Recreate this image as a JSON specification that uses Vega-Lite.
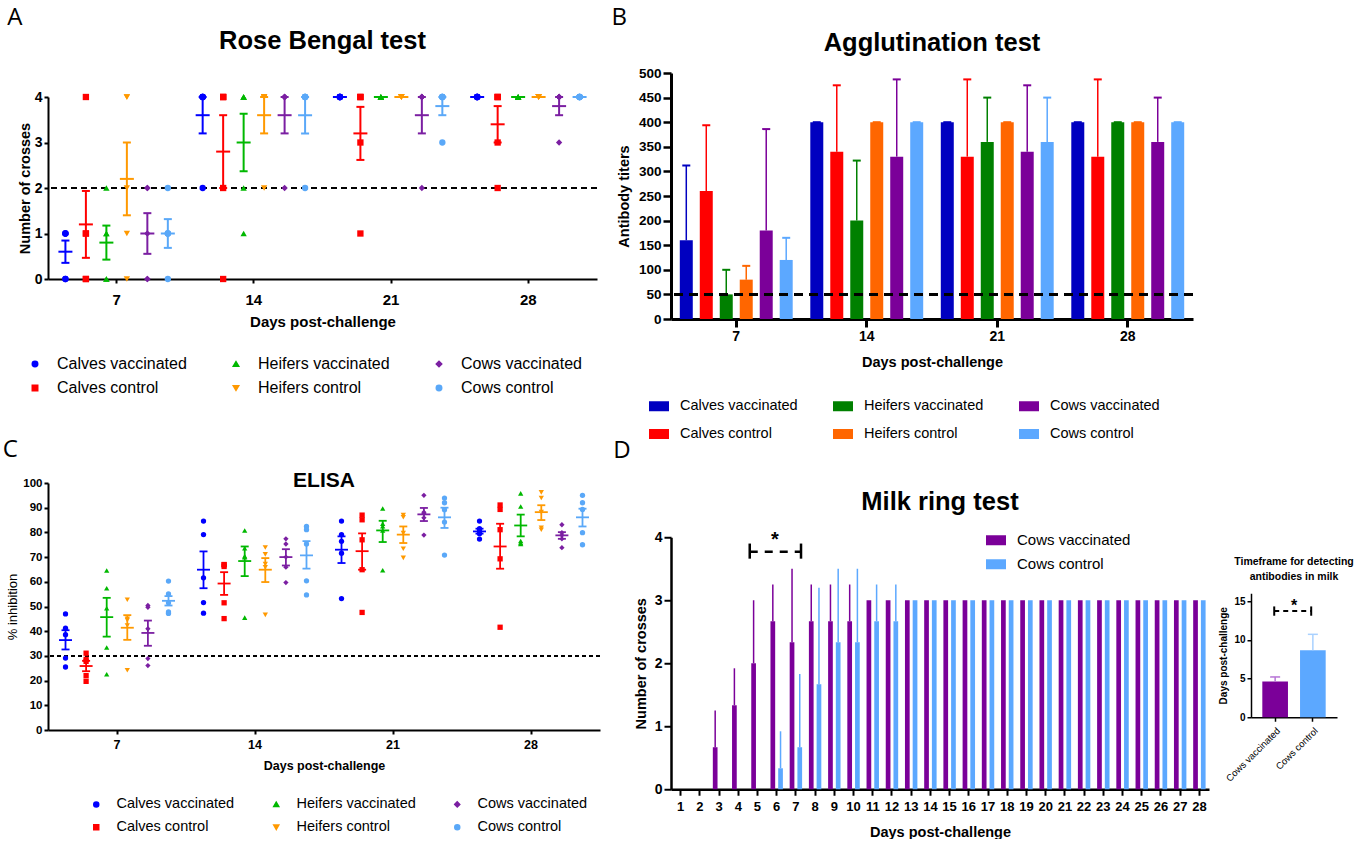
{
"$schema": "https://vega.github.io/schema/vega-lite/v6.json",
"background": "white",
"padding": {"left": 2, "top": 4, "right": 0, "bottom": 0},
"config": {
 "view": {"stroke": null},
 "font": "Liberation Sans",
 "axis": {"domainColor": "black", "tickColor": "black", "labelColor": "black", "titleColor": "black", "grid": false, "labelFont": "Liberation Sans", "titleFont": "Liberation Sans", "labelFontWeight": "bold", "titleFontWeight": "bold", "labelOverlap": false},
 "legend": {"labelFont": "Liberation Sans", "labelColor": "black", "labelLimit": 300},
 "title": {"font": "Liberation Sans", "fontWeight": "bold", "color": "black"}
},
"datasets": {
 "rbp": [
  {"d":7,"g":"Calves vaccinated","v":1},{"d":7,"g":"Calves vaccinated","v":1},{"d":7,"g":"Calves vaccinated","v":1},{"d":7,"g":"Calves vaccinated","v":0},{"d":7,"g":"Calves vaccinated","v":0},
  {"d":7,"g":"Calves control","v":4},{"d":7,"g":"Calves control","v":1},{"d":7,"g":"Calves control","v":1},{"d":7,"g":"Calves control","v":0},{"d":7,"g":"Calves control","v":0},
  {"d":7,"g":"Heifers vaccinated","v":2},{"d":7,"g":"Heifers vaccinated","v":1},{"d":7,"g":"Heifers vaccinated","v":1},{"d":7,"g":"Heifers vaccinated","v":0},{"d":7,"g":"Heifers vaccinated","v":0},
  {"d":7,"g":"Heifers control","v":4},{"d":7,"g":"Heifers control","v":4},{"d":7,"g":"Heifers control","v":2},{"d":7,"g":"Heifers control","v":1},{"d":7,"g":"Heifers control","v":0},
  {"d":7,"g":"Cows vaccinated","v":2},{"d":7,"g":"Cows vaccinated","v":2},{"d":7,"g":"Cows vaccinated","v":1},{"d":7,"g":"Cows vaccinated","v":0},{"d":7,"g":"Cows vaccinated","v":0},
  {"d":7,"g":"Cows control","v":2},{"d":7,"g":"Cows control","v":1},{"d":7,"g":"Cows control","v":1},{"d":7,"g":"Cows control","v":1},{"d":7,"g":"Cows control","v":0},
  {"d":14,"g":"Calves vaccinated","v":4},{"d":14,"g":"Calves vaccinated","v":4},{"d":14,"g":"Calves vaccinated","v":4},{"d":14,"g":"Calves vaccinated","v":4},{"d":14,"g":"Calves vaccinated","v":2},
  {"d":14,"g":"Calves control","v":4},{"d":14,"g":"Calves control","v":4},{"d":14,"g":"Calves control","v":4},{"d":14,"g":"Calves control","v":2},{"d":14,"g":"Calves control","v":0},
  {"d":14,"g":"Heifers vaccinated","v":4},{"d":14,"g":"Heifers vaccinated","v":4},{"d":14,"g":"Heifers vaccinated","v":4},{"d":14,"g":"Heifers vaccinated","v":2},{"d":14,"g":"Heifers vaccinated","v":1},
  {"d":14,"g":"Heifers control","v":4},{"d":14,"g":"Heifers control","v":4},{"d":14,"g":"Heifers control","v":4},{"d":14,"g":"Heifers control","v":4},{"d":14,"g":"Heifers control","v":2},
  {"d":14,"g":"Cows vaccinated","v":4},{"d":14,"g":"Cows vaccinated","v":4},{"d":14,"g":"Cows vaccinated","v":4},{"d":14,"g":"Cows vaccinated","v":4},{"d":14,"g":"Cows vaccinated","v":2},
  {"d":14,"g":"Cows control","v":4},{"d":14,"g":"Cows control","v":4},{"d":14,"g":"Cows control","v":4},{"d":14,"g":"Cows control","v":4},{"d":14,"g":"Cows control","v":2},
  {"d":21,"g":"Calves vaccinated","v":4},{"d":21,"g":"Calves vaccinated","v":4},{"d":21,"g":"Calves vaccinated","v":4},{"d":21,"g":"Calves vaccinated","v":4},{"d":21,"g":"Calves vaccinated","v":4},
  {"d":21,"g":"Calves control","v":4},{"d":21,"g":"Calves control","v":4},{"d":21,"g":"Calves control","v":4},{"d":21,"g":"Calves control","v":3},{"d":21,"g":"Calves control","v":1},
  {"d":21,"g":"Heifers vaccinated","v":4},{"d":21,"g":"Heifers vaccinated","v":4},{"d":21,"g":"Heifers vaccinated","v":4},{"d":21,"g":"Heifers vaccinated","v":4},{"d":21,"g":"Heifers vaccinated","v":4},
  {"d":21,"g":"Heifers control","v":4},{"d":21,"g":"Heifers control","v":4},{"d":21,"g":"Heifers control","v":4},{"d":21,"g":"Heifers control","v":4},{"d":21,"g":"Heifers control","v":4},
  {"d":21,"g":"Cows vaccinated","v":4},{"d":21,"g":"Cows vaccinated","v":4},{"d":21,"g":"Cows vaccinated","v":4},{"d":21,"g":"Cows vaccinated","v":4},{"d":21,"g":"Cows vaccinated","v":2},
  {"d":21,"g":"Cows control","v":4},{"d":21,"g":"Cows control","v":4},{"d":21,"g":"Cows control","v":4},{"d":21,"g":"Cows control","v":4},{"d":21,"g":"Cows control","v":3},
  {"d":28,"g":"Calves vaccinated","v":4},{"d":28,"g":"Calves vaccinated","v":4},{"d":28,"g":"Calves vaccinated","v":4},{"d":28,"g":"Calves vaccinated","v":4},{"d":28,"g":"Calves vaccinated","v":4},
  {"d":28,"g":"Calves control","v":4},{"d":28,"g":"Calves control","v":4},{"d":28,"g":"Calves control","v":4},{"d":28,"g":"Calves control","v":3},{"d":28,"g":"Calves control","v":2},
  {"d":28,"g":"Heifers vaccinated","v":4},{"d":28,"g":"Heifers vaccinated","v":4},{"d":28,"g":"Heifers vaccinated","v":4},{"d":28,"g":"Heifers vaccinated","v":4},{"d":28,"g":"Heifers vaccinated","v":4},
  {"d":28,"g":"Heifers control","v":4},{"d":28,"g":"Heifers control","v":4},{"d":28,"g":"Heifers control","v":4},{"d":28,"g":"Heifers control","v":4},{"d":28,"g":"Heifers control","v":4},
  {"d":28,"g":"Cows vaccinated","v":4},{"d":28,"g":"Cows vaccinated","v":4},{"d":28,"g":"Cows vaccinated","v":4},{"d":28,"g":"Cows vaccinated","v":4},{"d":28,"g":"Cows vaccinated","v":3},
  {"d":28,"g":"Cows control","v":4},{"d":28,"g":"Cows control","v":4},{"d":28,"g":"Cows control","v":4},{"d":28,"g":"Cows control","v":4},{"d":28,"g":"Cows control","v":4}
 ],
 "rbs": [
  {"d":7,"g":"Calves vaccinated","m":0.6,"lo":0.355,"hi":0.845},
  {"d":7,"g":"Calves control","m":1.2,"lo":0.465,"hi":1.935},
  {"d":7,"g":"Heifers vaccinated","m":0.8,"lo":0.426,"hi":1.174},
  {"d":7,"g":"Heifers control","m":2.2,"lo":1.4,"hi":3.0},
  {"d":7,"g":"Cows vaccinated","m":1.0,"lo":0.553,"hi":1.447},
  {"d":7,"g":"Cows control","m":1.0,"lo":0.684,"hi":1.316},
  {"d":14,"g":"Calves vaccinated","m":3.6,"lo":3.2,"hi":4.0},
  {"d":14,"g":"Calves control","m":2.8,"lo":2.0,"hi":3.6},
  {"d":14,"g":"Heifers vaccinated","m":3.0,"lo":2.368,"hi":3.632},
  {"d":14,"g":"Heifers control","m":3.6,"lo":3.2,"hi":4.0},
  {"d":14,"g":"Cows vaccinated","m":3.6,"lo":3.2,"hi":4.0},
  {"d":14,"g":"Cows control","m":3.6,"lo":3.2,"hi":4.0},
  {"d":21,"g":"Calves vaccinated","m":4,"lo":4,"hi":4},
  {"d":21,"g":"Calves control","m":3.2,"lo":2.617,"hi":3.783},
  {"d":21,"g":"Heifers vaccinated","m":4,"lo":4,"hi":4},
  {"d":21,"g":"Heifers control","m":4,"lo":4,"hi":4},
  {"d":21,"g":"Cows vaccinated","m":3.6,"lo":3.2,"hi":4.0},
  {"d":21,"g":"Cows control","m":3.8,"lo":3.6,"hi":4.0},
  {"d":28,"g":"Calves vaccinated","m":4,"lo":4,"hi":4},
  {"d":28,"g":"Calves control","m":3.4,"lo":3.0,"hi":3.8},
  {"d":28,"g":"Heifers vaccinated","m":4,"lo":4,"hi":4},
  {"d":28,"g":"Heifers control","m":4,"lo":4,"hi":4},
  {"d":28,"g":"Cows vaccinated","m":3.8,"lo":3.6,"hi":4.0},
  {"d":28,"g":"Cows control","m":4,"lo":4,"hi":4}
 ],
 "agg": [
  {"d":7,"g":"Calves vaccinated","m":160,"hi":312},
  {"d":7,"g":"Calves control","m":260,"hi":394},
  {"d":7,"g":"Heifers vaccinated","m":50,"hi":100},
  {"d":7,"g":"Heifers control","m":80,"hi":108},
  {"d":7,"g":"Cows vaccinated","m":180,"hi":386},
  {"d":7,"g":"Cows control","m":120,"hi":165},
  {"d":14,"g":"Calves vaccinated","m":400,"hi":400},
  {"d":14,"g":"Calves control","m":340,"hi":475},
  {"d":14,"g":"Heifers vaccinated","m":200,"hi":322},
  {"d":14,"g":"Heifers control","m":400,"hi":400},
  {"d":14,"g":"Cows vaccinated","m":330,"hi":487},
  {"d":14,"g":"Cows control","m":400,"hi":400},
  {"d":21,"g":"Calves vaccinated","m":400,"hi":400},
  {"d":21,"g":"Calves control","m":330,"hi":487},
  {"d":21,"g":"Heifers vaccinated","m":360,"hi":450},
  {"d":21,"g":"Heifers control","m":400,"hi":400},
  {"d":21,"g":"Cows vaccinated","m":340,"hi":475},
  {"d":21,"g":"Cows control","m":360,"hi":450},
  {"d":28,"g":"Calves vaccinated","m":400,"hi":400},
  {"d":28,"g":"Calves control","m":330,"hi":487},
  {"d":28,"g":"Heifers vaccinated","m":400,"hi":400},
  {"d":28,"g":"Heifers control","m":400,"hi":400},
  {"d":28,"g":"Cows vaccinated","m":360,"hi":450},
  {"d":28,"g":"Cows control","m":400,"hi":400}
 ],
 "elp": [
  {"d":7,"g":"Calves vaccinated","v":47.0},{"d":7,"g":"Calves vaccinated","v":41.2},{"d":7,"g":"Calves vaccinated","v":38.6},{"d":7,"g":"Calves vaccinated","v":29.1},{"d":7,"g":"Calves vaccinated","v":25.5},
  {"d":7,"g":"Calves control","v":31.1},{"d":7,"g":"Calves control","v":28.6},{"d":7,"g":"Calves control","v":27.8},{"d":7,"g":"Calves control","v":22.0},{"d":7,"g":"Calves control","v":19.7},
  {"d":7,"g":"Heifers vaccinated","v":64.6},{"d":7,"g":"Heifers vaccinated","v":57.4},{"d":7,"g":"Heifers vaccinated","v":49.3},{"d":7,"g":"Heifers vaccinated","v":33.4},{"d":7,"g":"Heifers vaccinated","v":22.6},
  {"d":7,"g":"Heifers control","v":52.7},{"d":7,"g":"Heifers control","v":45.0},{"d":7,"g":"Heifers control","v":44.5},{"d":7,"g":"Heifers control","v":42.3},{"d":7,"g":"Heifers control","v":24.2},
  {"d":7,"g":"Cows vaccinated","v":50.4},{"d":7,"g":"Cows vaccinated","v":49.7},{"d":7,"g":"Cows vaccinated","v":41.0},{"d":7,"g":"Cows vaccinated","v":28.9},{"d":7,"g":"Cows vaccinated","v":26.1},
  {"d":7,"g":"Cows control","v":60.3},{"d":7,"g":"Cows control","v":55.1},{"d":7,"g":"Cows control","v":51.5},{"d":7,"g":"Cows control","v":47.8},{"d":7,"g":"Cows control","v":47.2},
  {"d":14,"g":"Calves vaccinated","v":84.6},{"d":14,"g":"Calves vaccinated","v":79.1},{"d":14,"g":"Calves vaccinated","v":61.6},{"d":14,"g":"Calves vaccinated","v":51.6},{"d":14,"g":"Calves vaccinated","v":47.3},
  {"d":14,"g":"Calves control","v":67.0},{"d":14,"g":"Calves control","v":66.9},{"d":14,"g":"Calves control","v":66.2},{"d":14,"g":"Calves control","v":51.5},{"d":14,"g":"Calves control","v":45.1},
  {"d":14,"g":"Heifers vaccinated","v":80.8},{"d":14,"g":"Heifers vaccinated","v":73.6},{"d":14,"g":"Heifers vaccinated","v":70.4},{"d":14,"g":"Heifers vaccinated","v":70.0},{"d":14,"g":"Heifers vaccinated","v":45.5},
  {"d":14,"g":"Heifers control","v":73.9},{"d":14,"g":"Heifers control","v":71.1},{"d":14,"g":"Heifers control","v":67.2},{"d":14,"g":"Heifers control","v":65.9},{"d":14,"g":"Heifers control","v":46.6},
  {"d":14,"g":"Cows vaccinated","v":77.4},{"d":14,"g":"Cows vaccinated","v":75.3},{"d":14,"g":"Cows vaccinated","v":70.0},{"d":14,"g":"Cows vaccinated","v":65.9},{"d":14,"g":"Cows vaccinated","v":59.7},
  {"d":14,"g":"Cows control","v":82.4},{"d":14,"g":"Cows control","v":81.1},{"d":14,"g":"Cows control","v":75.3},{"d":14,"g":"Cows control","v":60.4},{"d":14,"g":"Cows control","v":54.7},
  {"d":21,"g":"Calves vaccinated","v":84.6},{"d":21,"g":"Calves vaccinated","v":79.1},{"d":21,"g":"Calves vaccinated","v":76.4},{"d":21,"g":"Calves vaccinated","v":71.6},{"d":21,"g":"Calves vaccinated","v":53.2},
  {"d":21,"g":"Calves control","v":87.0},{"d":21,"g":"Calves control","v":85.1},{"d":21,"g":"Calves control","v":77.0},{"d":21,"g":"Calves control","v":64.9},{"d":21,"g":"Calves control","v":47.6},
  {"d":21,"g":"Heifers vaccinated","v":89.7},{"d":21,"g":"Heifers vaccinated","v":83.5},{"d":21,"g":"Heifers vaccinated","v":82.5},{"d":21,"g":"Heifers vaccinated","v":80.8},{"d":21,"g":"Heifers vaccinated","v":64.7},
  {"d":21,"g":"Heifers control","v":87.0},{"d":21,"g":"Heifers control","v":86.1},{"d":21,"g":"Heifers control","v":79.7},{"d":21,"g":"Heifers control","v":73.4},{"d":21,"g":"Heifers control","v":69.7},
  {"d":21,"g":"Cows vaccinated","v":95.0},{"d":21,"g":"Cows vaccinated","v":88.2},{"d":21,"g":"Cows vaccinated","v":87.6},{"d":21,"g":"Cows vaccinated","v":85.9},{"d":21,"g":"Cows vaccinated","v":78.9},
  {"d":21,"g":"Cows control","v":93.9},{"d":21,"g":"Cows control","v":92.0},{"d":21,"g":"Cows control","v":89.2},{"d":21,"g":"Cows control","v":84.2},{"d":21,"g":"Cows control","v":70.8},
  {"d":28,"g":"Calves vaccinated","v":84.6},{"d":28,"g":"Calves vaccinated","v":81.5},{"d":28,"g":"Calves vaccinated","v":80.5},{"d":28,"g":"Calves vaccinated","v":79.5},{"d":28,"g":"Calves vaccinated","v":77.3},
  {"d":28,"g":"Calves control","v":91.1},{"d":28,"g":"Calves control","v":89.3},{"d":28,"g":"Calves control","v":81.1},{"d":28,"g":"Calves control","v":69.3},{"d":28,"g":"Calves control","v":41.6},
  {"d":28,"g":"Heifers vaccinated","v":95.8},{"d":28,"g":"Heifers vaccinated","v":90.5},{"d":28,"g":"Heifers vaccinated","v":76.5},{"d":28,"g":"Heifers vaccinated","v":75.7},{"d":28,"g":"Heifers vaccinated","v":75.3},
  {"d":28,"g":"Heifers control","v":96.2},{"d":28,"g":"Heifers control","v":93.9},{"d":28,"g":"Heifers control","v":88.2},{"d":28,"g":"Heifers control","v":81.9},{"d":28,"g":"Heifers control","v":81.1},
  {"d":28,"g":"Cows vaccinated","v":83.1},{"d":28,"g":"Cows vaccinated","v":79.9},{"d":28,"g":"Cows vaccinated","v":78.8},{"d":28,"g":"Cows vaccinated","v":77.4},{"d":28,"g":"Cows vaccinated","v":73.8},
  {"d":28,"g":"Cows control","v":95.0},{"d":28,"g":"Cows control","v":92.0},{"d":28,"g":"Cows control","v":89.3},{"d":28,"g":"Cows control","v":79.9},{"d":28,"g":"Cows control","v":75.0}
 ],
 "els": [
  {"d":7,"g":"Calves vaccinated","m":36.4,"lo":32.6,"hi":40.4},
  {"d":7,"g":"Calves control","m":25.9,"lo":23.8,"hi":28.0},
  {"d":7,"g":"Heifers vaccinated","m":45.7,"lo":37.8,"hi":53.5},
  {"d":7,"g":"Heifers control","m":41.4,"lo":36.5,"hi":46.5},
  {"d":7,"g":"Cows vaccinated","m":39.3,"lo":34.1,"hi":44.3},
  {"d":7,"g":"Cows control","m":52.3,"lo":50.4,"hi":54.2},
  {"d":14,"g":"Calves vaccinated","m":64.9,"lo":57.4,"hi":72.3},
  {"d":14,"g":"Calves control","m":59.3,"lo":54.7,"hi":63.9},
  {"d":14,"g":"Heifers vaccinated","m":68.4,"lo":62.3,"hi":74.3},
  {"d":14,"g":"Heifers control","m":64.9,"lo":59.9,"hi":69.6},
  {"d":14,"g":"Cows vaccinated","m":70.0,"lo":66.6,"hi":73.2},
  {"d":14,"g":"Cows control","m":70.7,"lo":65.3,"hi":76.5},
  {"d":21,"g":"Calves vaccinated","m":73.0,"lo":67.6,"hi":78.4},
  {"d":21,"g":"Calves control","m":72.4,"lo":64.9,"hi":79.6},
  {"d":21,"g":"Heifers vaccinated","m":80.8,"lo":76.1,"hi":84.7},
  {"d":21,"g":"Heifers control","m":79.1,"lo":75.7,"hi":82.4},
  {"d":21,"g":"Cows vaccinated","m":87.3,"lo":84.6,"hi":89.9},
  {"d":21,"g":"Cows control","m":86.1,"lo":81.8,"hi":90.0},
  {"d":28,"g":"Calves vaccinated","m":80.4,"lo":79.5,"hi":81.5},
  {"d":28,"g":"Calves control","m":74.3,"lo":65.3,"hi":83.5},
  {"d":28,"g":"Heifers vaccinated","m":82.8,"lo":78.4,"hi":87.2},
  {"d":28,"g":"Heifers control","m":88.2,"lo":85.0,"hi":91.0},
  {"d":28,"g":"Cows vaccinated","m":78.8,"lo":77.4,"hi":80.1},
  {"d":28,"g":"Cows control","m":86.1,"lo":82.4,"hi":89.6}
 ],
 "milk": [
  {"d":1,"g":"Cows vaccinated","m":0,"hi":0},{"d":1,"g":"Cows control","m":0,"hi":0},
  {"d":2,"g":"Cows vaccinated","m":0,"hi":0},{"d":2,"g":"Cows control","m":0,"hi":0},
  {"d":3,"g":"Cows vaccinated","m":0.667,"hi":1.25},{"d":3,"g":"Cows control","m":0,"hi":0},
  {"d":4,"g":"Cows vaccinated","m":1.333,"hi":1.92},{"d":4,"g":"Cows control","m":0,"hi":0},
  {"d":5,"g":"Cows vaccinated","m":2.0,"hi":3.0},{"d":5,"g":"Cows control","m":0,"hi":0},
  {"d":6,"g":"Cows vaccinated","m":2.667,"hi":3.25},{"d":6,"g":"Cows control","m":0.333,"hi":0.92},
  {"d":7,"g":"Cows vaccinated","m":2.333,"hi":3.5},{"d":7,"g":"Cows control","m":0.667,"hi":1.83},
  {"d":8,"g":"Cows vaccinated","m":2.667,"hi":3.25},{"d":8,"g":"Cows control","m":1.667,"hi":3.2},
  {"d":9,"g":"Cows vaccinated","m":2.667,"hi":3.25},{"d":9,"g":"Cows control","m":2.333,"hi":3.5},
  {"d":10,"g":"Cows vaccinated","m":2.667,"hi":3.25},{"d":10,"g":"Cows control","m":2.333,"hi":3.5},
  {"d":11,"g":"Cows vaccinated","m":3,"hi":3},{"d":11,"g":"Cows control","m":2.667,"hi":3.25},
  {"d":12,"g":"Cows vaccinated","m":3,"hi":3},{"d":12,"g":"Cows control","m":2.667,"hi":3.25},
  {"d":13,"g":"Cows vaccinated","m":3,"hi":3},{"d":13,"g":"Cows control","m":3,"hi":3},
  {"d":14,"g":"Cows vaccinated","m":3,"hi":3},{"d":14,"g":"Cows control","m":3,"hi":3},
  {"d":15,"g":"Cows vaccinated","m":3,"hi":3},{"d":15,"g":"Cows control","m":3,"hi":3},
  {"d":16,"g":"Cows vaccinated","m":3,"hi":3},{"d":16,"g":"Cows control","m":3,"hi":3},
  {"d":17,"g":"Cows vaccinated","m":3,"hi":3},{"d":17,"g":"Cows control","m":3,"hi":3},
  {"d":18,"g":"Cows vaccinated","m":3,"hi":3},{"d":18,"g":"Cows control","m":3,"hi":3},
  {"d":19,"g":"Cows vaccinated","m":3,"hi":3},{"d":19,"g":"Cows control","m":3,"hi":3},
  {"d":20,"g":"Cows vaccinated","m":3,"hi":3},{"d":20,"g":"Cows control","m":3,"hi":3},
  {"d":21,"g":"Cows vaccinated","m":3,"hi":3},{"d":21,"g":"Cows control","m":3,"hi":3},
  {"d":22,"g":"Cows vaccinated","m":3,"hi":3},{"d":22,"g":"Cows control","m":3,"hi":3},
  {"d":23,"g":"Cows vaccinated","m":3,"hi":3},{"d":23,"g":"Cows control","m":3,"hi":3},
  {"d":24,"g":"Cows vaccinated","m":3,"hi":3},{"d":24,"g":"Cows control","m":3,"hi":3},
  {"d":25,"g":"Cows vaccinated","m":3,"hi":3},{"d":25,"g":"Cows control","m":3,"hi":3},
  {"d":26,"g":"Cows vaccinated","m":3,"hi":3},{"d":26,"g":"Cows control","m":3,"hi":3},
  {"d":27,"g":"Cows vaccinated","m":3,"hi":3},{"d":27,"g":"Cows control","m":3,"hi":3},
  {"d":28,"g":"Cows vaccinated","m":3,"hi":3},{"d":28,"g":"Cows control","m":3,"hi":3}
 ],
 "inset": [
  {"g":"Cows vaccinated","m":4.6,"hi":5.2},
  {"g":"Cows control","m":8.63,"hi":10.7}
 ]
},
"resolve": {"scale": {"color": "independent", "shape": "independent", "xOffset": "independent", "fill": "independent", "stroke": "independent"}, "legend": {"color": "independent", "shape": "independent"}},
"align": "none",
"spacing": 10,
"hconcat": [
 {
  "align": "none",
  "spacing": 0,
  "resolve": {"scale": {"color": "independent", "shape": "independent", "xOffset": "independent", "fill": "independent", "stroke": "independent"}, "legend": {"color": "independent", "shape": "independent"}},
  "vconcat": [
   {"width": 4, "height": 1, "data": {"values": [{}]}, "mark": {"type": "point", "opacity": 0, "size": 1}, "encoding": {}},
   {
  "align": "none",
  "spacing": 42,
  "resolve": {"scale": {"color": "independent", "shape": "independent", "xOffset": "independent", "fill": "independent", "stroke": "independent"}, "legend": {"color": "independent", "shape": "independent"}},
  "vconcat": [
   {
    "title": {"text": "A", "anchor": "start", "font": "Open Sans", "fontSize": 24, "fontWeight": "normal", "dx": -10, "offset": -1},
    "vconcat": [{
     "width": 549, "height": 182,
     "title": {"text": "Rose Bengal test", "fontSize": 25.5, "offset": 36},
     "layer": [
      {"data": {"name": "rbs"}, "mark": {"type": "rule", "strokeDash": [6, 4], "strokeWidth": 2, "color": "black"}, "encoding": {"y": {"datum": 2, "type": "quantitative"}}},
      {"data": {"name": "rbp"}, "mark": {"type": "point", "filled": true, "size": 40, "opacity": 1},
       "encoding": {
        "x": {"field": "d", "type": "ordinal", "title": "Days post-challenge", "scale": {"paddingInner": 0, "paddingOuter": 0}, "axis": {"labelAngle": 0, "labelFontSize": 15, "titleFontSize": 15, "tickSize": 4, "labelPadding": 9, "titlePadding": 7, "domainWidth": 2, "tickWidth": 2}},
        "xOffset": {"field": "g", "type": "nominal", "scale": {"domain": ["Calves vaccinated","Calves control","Heifers vaccinated","Heifers control","Cows vaccinated","Cows control"], "paddingInner": 0, "paddingOuter": 0.35}},
        "y": {"field": "v", "type": "quantitative", "title": "Number of crosses", "scale": {"domain": [0, 4]}, "axis": {"values": [0,1,2,3,4], "tickCount": 6, "format": "d", "labelOverlap": false, "labelFontSize": 14, "titleFontSize": 14.5, "tickSize": 4, "labelPadding": 2, "titlePadding": 2, "domainWidth": 2, "tickWidth": 2}},
        "color": {"field": "g", "type": "nominal", "scale": {"domain": ["Calves vaccinated","Heifers vaccinated","Cows vaccinated","Calves control","Heifers control","Cows control"], "range": ["#0000FF","#00B800","#7B1FA2","#FF0000","#FF9900","#5AA8F8"]},
         "legend": {"title": null, "orient": "none", "legendX": -21, "legendY": 259, "direction": "horizontal", "columns": 3, "labelFontSize": 16, "symbolSize": 30, "labelOffset": 14, "columnPadding": 41, "rowPadding": 8, "padding": 0}},
        "shape": {"field": "g", "type": "nominal", "scale": {"domain": ["Calves vaccinated","Heifers vaccinated","Cows vaccinated","Calves control","Heifers control","Cows control"], "range": ["circle","triangle-up","diamond","square","triangle-down","circle"]},
         "legend": {"title": null, "orient": "none", "legendX": -21, "legendY": 259, "direction": "horizontal", "columns": 3, "labelFontSize": 16, "symbolSize": 30, "labelOffset": 14, "columnPadding": 41, "rowPadding": 8, "padding": 0}}
       }},
      {"data": {"name": "rbs"}, "mark": {"type": "rule", "strokeWidth": 2},
       "encoding": {
        "x": {"field": "d", "type": "ordinal", "title": "Days post-challenge"},
        "xOffset": {"field": "g", "type": "nominal"},
        "y": {"field": "lo", "type": "quantitative", "title": "Number of crosses"}, "y2": {"field": "hi"},
        "color": {"field": "g", "type": "nominal", "legend": null}}},
      {"data": {"name": "rbs"}, "mark": {"type": "tick", "orient": "horizontal", "size": 14, "thickness": 2, "opacity": 1},
       "encoding": {
        "x": {"field": "d", "type": "ordinal", "title": "Days post-challenge"},
        "xOffset": {"field": "g", "type": "nominal"},
        "y": {"field": "m", "type": "quantitative", "title": "Number of crosses"},
        "color": {"field": "g", "type": "nominal", "legend": null}}},
      {"data": {"name": "rbs"}, "mark": {"type": "tick", "orient": "horizontal", "size": 8, "thickness": 2, "opacity": 1},
       "encoding": {
        "x": {"field": "d", "type": "ordinal", "title": "Days post-challenge"},
        "xOffset": {"field": "g", "type": "nominal"},
        "y": {"field": "lo", "type": "quantitative", "title": "Number of crosses"},
        "color": {"field": "g", "type": "nominal", "legend": null}}},
      {"data": {"name": "rbs"}, "mark": {"type": "tick", "orient": "horizontal", "size": 8, "thickness": 2, "opacity": 1},
       "encoding": {
        "x": {"field": "d", "type": "ordinal", "title": "Days post-challenge"},
        "xOffset": {"field": "g", "type": "nominal"},
        "y": {"field": "hi", "type": "quantitative", "title": "Number of crosses"},
        "color": {"field": "g", "type": "nominal", "legend": null}}}
     ]
    }]
   },
   {
    "title": {"text": "C", "anchor": "start", "font": "Open Sans", "fontSize": 24, "fontWeight": "normal", "dx": -4, "offset": 8},
    "vconcat": [{
     "width": 552, "height": 247,
     "title": {"text": "ELISA", "fontSize": 21, "offset": -14},
     "layer": [
      {"data": {"name": "els"}, "mark": {"type": "rule", "strokeDash": [4, 3], "strokeWidth": 1.6, "color": "black"}, "encoding": {"y": {"datum": 30, "type": "quantitative"}}},
      {"data": {"name": "elp"}, "mark": {"type": "point", "filled": true, "size": 28, "opacity": 1},
       "encoding": {
        "x": {"field": "d", "type": "ordinal", "title": "Days post-challenge", "scale": {"paddingInner": 0, "paddingOuter": 0}, "axis": {"labelAngle": 0, "labelFontSize": 12.5, "titleFontSize": 12.5, "tickSize": 4, "labelPadding": 4, "titlePadding": 9, "domainWidth": 2, "tickWidth": 2}},
        "xOffset": {"field": "g", "type": "nominal", "scale": {"domain": ["Calves vaccinated","Calves control","Heifers vaccinated","Heifers control","Cows vaccinated","Cows control"], "paddingInner": 0, "paddingOuter": 0.35}},
        "y": {"field": "v", "type": "quantitative", "title": "% inhibition", "scale": {"domain": [0, 100]}, "axis": {"values": [0,10,20,30,40,50,60,70,80,90,100], "tickCount": 12, "labelOverlap": false, "labelFontSize": 11.5, "titleFontSize": 13, "titleFontWeight": "normal", "tickSize": 4, "labelPadding": 2, "titlePadding": 3, "domainWidth": 2, "tickWidth": 2}},
        "color": {"field": "g", "type": "nominal", "scale": {"domain": ["Calves vaccinated","Heifers vaccinated","Cows vaccinated","Calves control","Heifers control","Cows control"], "range": ["#0000FF","#00B800","#7B1FA2","#FF0000","#FF9900","#5AA8F8"]},
         "legend": {"title": null, "orient": "none", "legendX": 41, "legendY": 314, "direction": "horizontal", "columns": 3, "labelFontSize": 14.5, "symbolSize": 25, "labelOffset": 13, "columnPadding": 34, "rowPadding": 8, "padding": 0}},
        "shape": {"field": "g", "type": "nominal", "scale": {"domain": ["Calves vaccinated","Heifers vaccinated","Cows vaccinated","Calves control","Heifers control","Cows control"], "range": ["circle","triangle-up","diamond","square","triangle-down","circle"]},
         "legend": {"title": null, "orient": "none", "legendX": 41, "legendY": 314, "direction": "horizontal", "columns": 3, "labelFontSize": 14.5, "symbolSize": 25, "labelOffset": 13, "columnPadding": 34, "rowPadding": 8, "padding": 0}}
       }},
      {"data": {"name": "els"}, "mark": {"type": "rule", "strokeWidth": 1.8},
       "encoding": {
        "x": {"field": "d", "type": "ordinal", "title": "Days post-challenge"},
        "xOffset": {"field": "g", "type": "nominal"},
        "y": {"field": "lo", "type": "quantitative", "title": "% inhibition"}, "y2": {"field": "hi"},
        "color": {"field": "g", "type": "nominal", "legend": null}}},
      {"data": {"name": "els"}, "mark": {"type": "tick", "orient": "horizontal", "size": 13, "thickness": 1.8, "opacity": 1},
       "encoding": {
        "x": {"field": "d", "type": "ordinal", "title": "Days post-challenge"},
        "xOffset": {"field": "g", "type": "nominal"},
        "y": {"field": "m", "type": "quantitative", "title": "% inhibition"},
        "color": {"field": "g", "type": "nominal", "legend": null}}},
      {"data": {"name": "els"}, "mark": {"type": "tick", "orient": "horizontal", "size": 8, "thickness": 1.8, "opacity": 1},
       "encoding": {
        "x": {"field": "d", "type": "ordinal", "title": "Days post-challenge"},
        "xOffset": {"field": "g", "type": "nominal"},
        "y": {"field": "lo", "type": "quantitative", "title": "% inhibition"},
        "color": {"field": "g", "type": "nominal", "legend": null}}},
      {"data": {"name": "els"}, "mark": {"type": "tick", "orient": "horizontal", "size": 8, "thickness": 1.8, "opacity": 1},
       "encoding": {
        "x": {"field": "d", "type": "ordinal", "title": "Days post-challenge"},
        "xOffset": {"field": "g", "type": "nominal"},
        "y": {"field": "hi", "type": "quantitative", "title": "% inhibition"},
        "color": {"field": "g", "type": "nominal", "legend": null}}}
     ]
    }]
   }
  ]
   }
  ]
 },
 {
  "align": "none",
  "spacing": 0,
  "resolve": {"scale": {"color": "independent", "shape": "independent", "xOffset": "independent", "fill": "independent", "stroke": "independent"}, "legend": {"color": "independent", "shape": "independent"}},
  "vconcat": [
   {"width": 4, "height": 1, "data": {"values": [{}]}, "mark": {"type": "point", "opacity": 0, "size": 1}, "encoding": {}},
   {
  "align": "none",
  "spacing": -3,
  "resolve": {"scale": {"color": "independent", "shape": "independent", "xOffset": "independent", "fill": "independent", "stroke": "independent"}, "legend": {"color": "independent", "shape": "independent"}},
  "vconcat": [
   {
    "title": {"text": "B", "anchor": "start", "font": "Open Sans", "fontSize": 24, "fontWeight": "normal", "dx": -5, "offset": 1},
    "vconcat": [{
     "width": 522, "height": 246,
     "title": {"text": "Agglutination test", "fontSize": 25.5, "offset": 10},
     "layer": [
      {"data": {"name": "agg"}, "mark": {"type": "bar"},
       "encoding": {
        "x": {"field": "d", "type": "ordinal", "title": "Days post-challenge", "scale": {"paddingInner": 0, "paddingOuter": 0}, "axis": {"labelAngle": 0, "labelFontSize": 14, "titleFontSize": 14.5, "tickSize": 8, "tickWidth": 3, "domainWidth": 3, "labelPadding": 2, "titlePadding": 12}},
        "xOffset": {"field": "g", "type": "nominal", "scale": {"domain": ["Calves vaccinated","Calves control","Heifers vaccinated","Heifers control","Cows vaccinated","Cows control"], "paddingInner": 0.35, "paddingOuter": 0.44}},
        "y": {"field": "m", "type": "quantitative", "title": "Antibody titers", "scale": {"domain": [0, 500]}, "axis": {"values": [0,50,100,150,200,250,300,350,400,450,500], "tickCount": 12, "labelOverlap": false, "labelFontSize": 13.5, "titleFontSize": 14.5, "tickSize": 8, "tickWidth": 2.5, "domainWidth": 3, "labelPadding": 2, "titlePadding": 7}},
        "color": {"field": "g", "type": "nominal", "scale": {"domain": ["Calves vaccinated","Heifers vaccinated","Cows vaccinated","Calves control","Heifers control","Cows control"], "range": ["#0000C0","#008000","#7B0099","#FF0000","#FF6600","#5CA8FF"]},
         "legend": {"title": null, "orient": "none", "legendX": -22, "legendY": 323, "direction": "horizontal", "columns": 3, "labelFontSize": 14.5, "symbolType": "M-1,-0.5H1V0.5H-1Z", "symbolSize": 400, "symbolStrokeWidth": 0, "labelOffset": 11, "columnPadding": 35, "rowPadding": 11, "padding": 0}}
       }},
      {"data": {"name": "agg"}, "mark": {"type": "rule", "strokeWidth": 1.5},
       "encoding": {
        "x": {"field": "d", "type": "ordinal", "title": "Days post-challenge"},
        "xOffset": {"field": "g", "type": "nominal"},
        "y": {"field": "m", "type": "quantitative", "title": "Antibody titers"}, "y2": {"field": "hi"},
        "color": {"field": "g", "type": "nominal", "legend": null}}},
      {"data": {"name": "agg"}, "mark": {"type": "tick", "orient": "horizontal", "size": 8, "thickness": 2, "opacity": 1},
       "encoding": {
        "x": {"field": "d", "type": "ordinal", "title": "Days post-challenge"},
        "xOffset": {"field": "g", "type": "nominal"},
        "y": {"field": "hi", "type": "quantitative", "title": "Antibody titers"},
        "color": {"field": "g", "type": "nominal", "legend": null}}},
      {"data": {"name": "agg"}, "mark": {"type": "rule", "strokeDash": [9, 6], "strokeWidth": 3, "color": "black"}, "encoding": {"y": {"datum": 50, "type": "quantitative"}}}
     ]
    }]
   },
   {
    "title": {"text": "D", "anchor": "start", "font": "Open Sans", "fontSize": 24, "fontWeight": "normal", "dx": -20, "offset": 27},
    "center": true,
    "spacing": 9,
    "resolve": {"scale": {"color": "independent", "shape": "independent", "xOffset": "independent", "fill": "independent", "stroke": "independent"}, "legend": {"color": "independent", "shape": "independent"}},
    "hconcat": [
     {
      "width": 538, "height": 252,
      "title": {"text": "Milk ring test", "fontSize": 25.5, "offset": 15},
      "resolve": {"scale": {"x": "independent"}},
      "layer": [
       {"layer": [
        {"data": {"name": "milk"}, "mark": {"type": "bar"},
         "encoding": {
          "x": {"field": "d", "type": "ordinal", "title": "Days post-challenge", "scale": {"paddingInner": 0, "paddingOuter": 0}, "axis": {"labelAngle": 0, "labelFontSize": 13, "titleFontSize": 14.5, "tickSize": 6, "tickWidth": 2, "domainWidth": 2.5, "labelPadding": 5, "titlePadding": 12, "labelOverlap": false}},
          "xOffset": {"field": "g", "type": "nominal", "scale": {"domain": ["Cows vaccinated","Cows control"], "paddingInner": 0.39, "paddingOuter": 0.44}},
          "y": {"field": "m", "type": "quantitative", "title": "Number of crosses", "scale": {"domain": [0, 4]}, "axis": {"values": [0,1,2,3,4], "tickCount": 6, "format": "d", "labelOverlap": false, "labelFontSize": 14, "titleFontSize": 14.5, "tickSize": 7, "tickWidth": 2, "domainWidth": 2.5, "labelPadding": 2, "titlePadding": 6}},
          "color": {"field": "g", "type": "nominal", "scale": {"domain": ["Cows vaccinated","Cows control"], "range": ["#7B0099","#5CA8FF"]},
           "legend": {"title": null, "orient": "none", "legendX": 315, "legendY": -7, "labelFontSize": 15, "symbolType": "M-1,-0.5H1V0.5H-1Z", "symbolSize": 400, "symbolStrokeWidth": 0, "labelOffset": 11, "rowPadding": 6, "padding": 0}}
         }},
        {"data": {"name": "milk"}, "mark": {"type": "rule", "strokeWidth": 1.5},
         "encoding": {
          "x": {"field": "d", "type": "ordinal", "title": "Days post-challenge"},
          "xOffset": {"field": "g", "type": "nominal"},
          "y": {"field": "m", "type": "quantitative", "title": "Number of crosses"}, "y2": {"field": "hi"},
          "color": {"field": "g", "type": "nominal", "legend": null}}}
       ]},
       {"layer": [
        {"data": {"values": [{}]}, "mark": {"type": "rule", "strokeDash": [8, 7], "strokeWidth": 2.5, "color": "black"},
         "encoding": {"x": {"datum": 4.39, "type": "quantitative", "scale": {"domain": [0.5, 28.5]}, "axis": null}, "x2": {"datum": 7.25}, "y": {"datum": 3.77, "type": "quantitative"}}},
        {"data": {"values": [{}]}, "mark": {"type": "rule", "strokeWidth": 2.5, "color": "black"},
         "encoding": {"x": {"datum": 4.39, "type": "quantitative"}, "y": {"datum": 3.66, "type": "quantitative"}, "y2": {"datum": 3.9}}},
        {"data": {"values": [{}]}, "mark": {"type": "rule", "strokeWidth": 2.5, "color": "black"},
         "encoding": {"x": {"datum": 7.25, "type": "quantitative"}, "y": {"datum": 3.66, "type": "quantitative"}, "y2": {"datum": 3.9}}},
        {"data": {"values": [{}]}, "mark": {"type": "text", "text": "*", "fontSize": 20, "fontWeight": "bold", "baseline": "middle", "color": "black"},
         "encoding": {"x": {"datum": 5.79, "type": "quantitative"}, "y": {"datum": 3.95, "type": "quantitative"}}}
       ]}
      ]
     },
     {
      "width": 86, "height": 124,
      "title": {"text": ["Timeframe for detecting", "antibodies in milk"], "fontSize": 10.5, "lineHeight": 15, "offset": 11},
      "resolve": {"scale": {"x": "independent"}},
      "layer": [
       {"layer": [
        {"data": {"name": "inset"}, "mark": {"type": "bar"},
         "encoding": {
          "x": {"field": "g", "type": "nominal", "title": null, "sort": ["Cows vaccinated","Cows control"], "scale": {"paddingInner": 0.32, "paddingOuter": 0.3}, "axis": {"labelAngle": -45, "labelFontSize": 9.5, "labelFontWeight": "normal", "tickSize": 4, "tickWidth": 1.5, "domainWidth": 1.5, "labelPadding": 4}},
          "y": {"field": "m", "type": "quantitative", "title": "Days post-challenge", "scale": {"domain": [0, 15]}, "axis": {"values": [0,5,10,15], "tickCount": 5, "labelOverlap": false, "labelFontSize": 10, "titleFontSize": 10, "tickSize": 4, "tickWidth": 1.5, "domainWidth": 1.5, "labelPadding": 2, "titlePadding": 5}},
          "color": {"field": "g", "type": "nominal", "scale": {"domain": ["Cows vaccinated","Cows control"], "range": ["#7B0099","#5CA8FF"]}, "legend": null}
         }},
        {"data": {"name": "inset"}, "mark": {"type": "rule", "strokeWidth": 1.5},
         "encoding": {
          "x": {"field": "g", "type": "nominal", "title": null, "sort": ["Cows vaccinated","Cows control"]},
          "y": {"field": "m", "type": "quantitative", "title": "Days post-challenge"}, "y2": {"field": "hi"},
          "stroke": {"field": "g", "type": "nominal", "scale": {"domain": ["Cows vaccinated","Cows control"], "range": ["#B774D6","#A9D1FF"]}, "legend": null}}},
        {"data": {"name": "inset"}, "mark": {"type": "tick", "orient": "horizontal", "size": 10, "thickness": 1.5, "opacity": 1},
         "encoding": {
          "x": {"field": "g", "type": "nominal", "title": null, "sort": ["Cows vaccinated","Cows control"]},
          "y": {"field": "hi", "type": "quantitative", "title": "Days post-challenge"},
          "fill": {"field": "g", "type": "nominal", "scale": {"domain": ["Cows vaccinated","Cows control"], "range": ["#B774D6","#A9D1FF"]}, "legend": null}}}
       ]},
       {"layer": [
        {"data": {"values": [{}]}, "mark": {"type": "rule", "strokeDash": [5, 4], "strokeWidth": 2, "color": "black"},
         "encoding": {"x": {"datum": 0.27, "type": "quantitative", "scale": {"domain": [0, 1]}, "axis": null}, "x2": {"datum": 0.7}, "y": {"datum": 13.7, "type": "quantitative"}}},
        {"data": {"values": [{}]}, "mark": {"type": "rule", "strokeWidth": 2, "color": "black"},
         "encoding": {"x": {"datum": 0.27, "type": "quantitative"}, "y": {"datum": 13.1, "type": "quantitative"}, "y2": {"datum": 14.3}}},
        {"data": {"values": [{}]}, "mark": {"type": "rule", "strokeWidth": 2, "color": "black"},
         "encoding": {"x": {"datum": 0.7, "type": "quantitative"}, "y": {"datum": 13.1, "type": "quantitative"}, "y2": {"datum": 14.3}}},
        {"data": {"values": [{}]}, "mark": {"type": "text", "text": "*", "fontSize": 16, "fontWeight": "bold", "baseline": "middle", "color": "black"},
         "encoding": {"x": {"datum": 0.5, "type": "quantitative"}, "y": {"datum": 14.3, "type": "quantitative"}}}
       ]}
      ]
     }
    ]
   }
  ]
   }
  ]
 }
]
}
